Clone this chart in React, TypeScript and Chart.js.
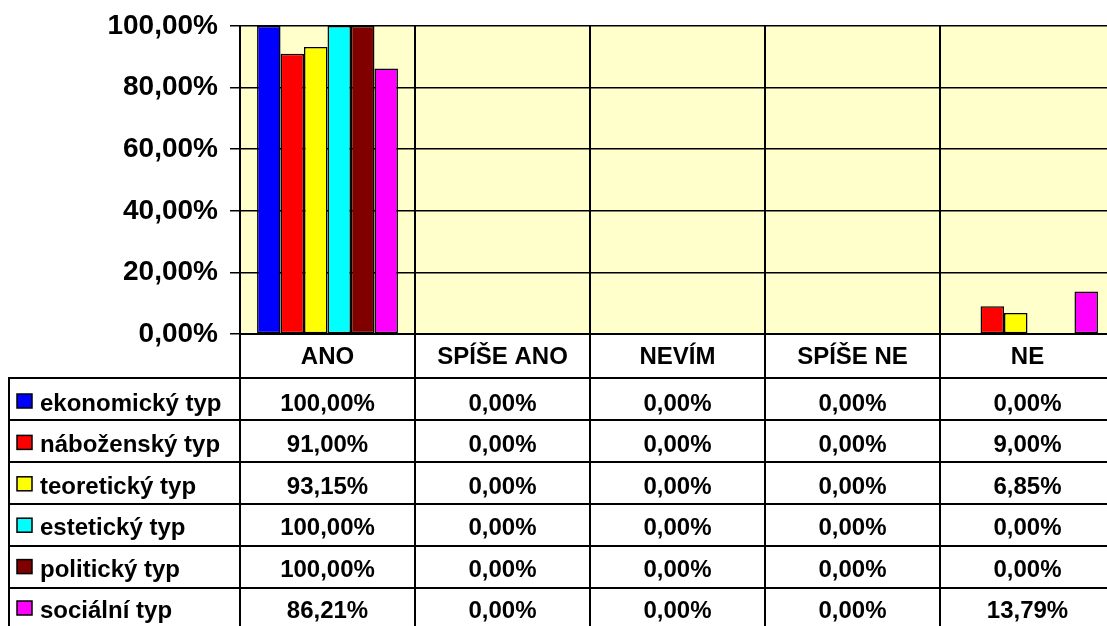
import React, { useEffect, useRef } from "react";
import { Chart, registerables } from "chart.js";

Chart.register(...registerables);

const categories = ["ANO", "SPÍŠE ANO", "NEVÍM", "SPÍŠE NE", "NE"];
const seriesNames = [
  "ekonomický typ",
  "náboženský typ",
  "teoretický typ",
  "estetický typ",
  "politický typ",
  "sociální typ",
];
const seriesColors = ["#0000FF", "#FF0000", "#FFFF00", "#00FFFF", "#800000", "#FF00FF"];
const ekonomicky = [100.0, 0, 0, 0, 0];
const nabozensky = [91.0, 0, 0, 0, 9.0];
const teoreticky = [93.15, 0, 0, 0, 6.85];
const esteticky = [100.0, 0, 0, 0, 0];
const politicky = [100.0, 0, 0, 0, 0];
const socialni = [86.21, 0, 0, 0, 13.79];
const seriesValues = [ekonomicky, nabozensky, teoreticky, esteticky, politicky, socialni];
const yTicks = [0, 20, 40, 60, 80, 100];

const FONT = "'Liberation Sans', Arial, Helvetica, sans-serif";
const fmt = (v: number) => v.toFixed(2).replace(".", ",") + "%";

const CANVAS_W = 1130;
const CANVAS_H = 640;
const HEADER_H = 44;
const ROW_H = 42;
const TABLE_LEFT = 8;

const tablePlugin = {
  id: "dataTable",
  beforeDraw(chart: any) {
    const { ctx, chartArea: a } = chart;
    ctx.save();
    ctx.fillStyle = "#FFFFCC";
    ctx.fillRect(a.left, a.top, a.right - a.left, a.bottom - a.top);
    ctx.restore();
  },
  afterDraw(chart: any) {
    const { ctx, chartArea: a } = chart;
    const n = categories.length;
    const catW = (a.right - a.left) / n;
    const headerBottom = a.bottom + HEADER_H;
    const tableBottom = headerBottom + ROW_H * seriesNames.length;
    ctx.save();
    ctx.strokeStyle = "#000";
    ctx.lineWidth = 2;
    for (let i = 0; i <= n; i++) {
      const x = Math.round(a.left + i * catW);
      ctx.beginPath();
      ctx.moveTo(x, a.top);
      ctx.lineTo(x, tableBottom);
      ctx.stroke();
    }
    for (let r = 0; r <= seriesNames.length; r++) {
      const y = Math.round(headerBottom + r * ROW_H);
      ctx.beginPath();
      ctx.moveTo(TABLE_LEFT, y);
      ctx.lineTo(a.right, y);
      ctx.stroke();
    }
    ctx.beginPath();
    ctx.moveTo(TABLE_LEFT + 1, headerBottom);
    ctx.lineTo(TABLE_LEFT + 1, tableBottom);
    ctx.stroke();

    ctx.font = `bold 24px ${FONT}`;
    ctx.fillStyle = "#000";
    ctx.textBaseline = "alphabetic";
    seriesNames.forEach((name, r) => {
      const base = headerBottom + 33 + r * 41.4;
      ctx.fillStyle = seriesColors[r];
      ctx.fillRect(17, base - 17, 15, 14);
      ctx.lineWidth = 1.5;
      ctx.strokeStyle = "#000";
      ctx.strokeRect(17, base - 17, 15, 14);
      ctx.fillStyle = "#000";
      ctx.textAlign = "left";
      ctx.fillText(name, 40, base);
      ctx.textAlign = "center";
      seriesValues[r].forEach((v, c) => {
        const cx = chart.scales.x.getPixelForValue(c);
        ctx.fillText(fmt(v), cx, base);
      });
    });
    ctx.restore();
  },
};

export default function App() {
  const ref = useRef<HTMLCanvasElement>(null);
  useEffect(() => {
    if (!ref.current) return;
    const chart = new Chart(ref.current, {
      type: "bar",
      data: {
        labels: categories,
        datasets: seriesNames.map((name, i) => ({
          label: name,
          data: seriesValues[i],
          backgroundColor: seriesColors[i],
          borderColor: "#000",
          borderWidth: 1.5,
          borderSkipped: false,
          barPercentage: 1.0,
          categoryPercentage: 0.805,
        })),
      },
      options: {
        animation: false,
        responsive: false,
        devicePixelRatio: 1,
        layout: { padding: { top: 26, right: CANVAS_W - 1115, left: 0, bottom: 0 } },
        plugins: { legend: { display: false }, tooltip: { enabled: false } },
        scales: {
          x: {
            afterFit: (s: any) => {
              s.height = CANVAS_H - 334;
              s.paddingLeft = 0;
              s.paddingRight = 0;
            },
            grid: { display: false },
            border: { display: true, color: "#000", width: 2 },
            ticks: {
              color: "#000",
              font: { family: FONT, size: 24, weight: "bold" },
              padding: 1,
              maxRotation: 0,
              autoSkip: false,
            },
          },
          y: {
            min: 0,
            max: 100,
            afterFit: (s: any) => {
              s.width = 240;
              s.paddingTop = 0;
              s.paddingBottom = 0;
            },
            afterBuildTicks: (s: any) => {
              s.ticks = yTicks.map((v) => ({ value: v }));
            },
            grid: { color: "#000", lineWidth: 1.5, tickLength: 10, drawTicks: true },
            border: { display: true, color: "#000", width: 2 },
            ticks: {
              color: "#000",
              font: { family: FONT, size: 28, weight: "bold" },
              padding: 12,
              callback: (v: any) => fmt(Number(v)),
            },
          },
        },
      },
      plugins: [tablePlugin],
    });
    return () => chart.destroy();
  }, []);
  return (
    <div
      style={{
        position: "absolute",
        left: 0,
        top: 0,
        width: 1107,
        height: 626,
        overflow: "hidden",
        background: "#fff",
      }}
    >
      <canvas ref={ref} width={CANVAS_W} height={CANVAS_H} style={{ width: CANVAS_W, height: CANVAS_H, display: "block" }} />
    </div>
  );
}
